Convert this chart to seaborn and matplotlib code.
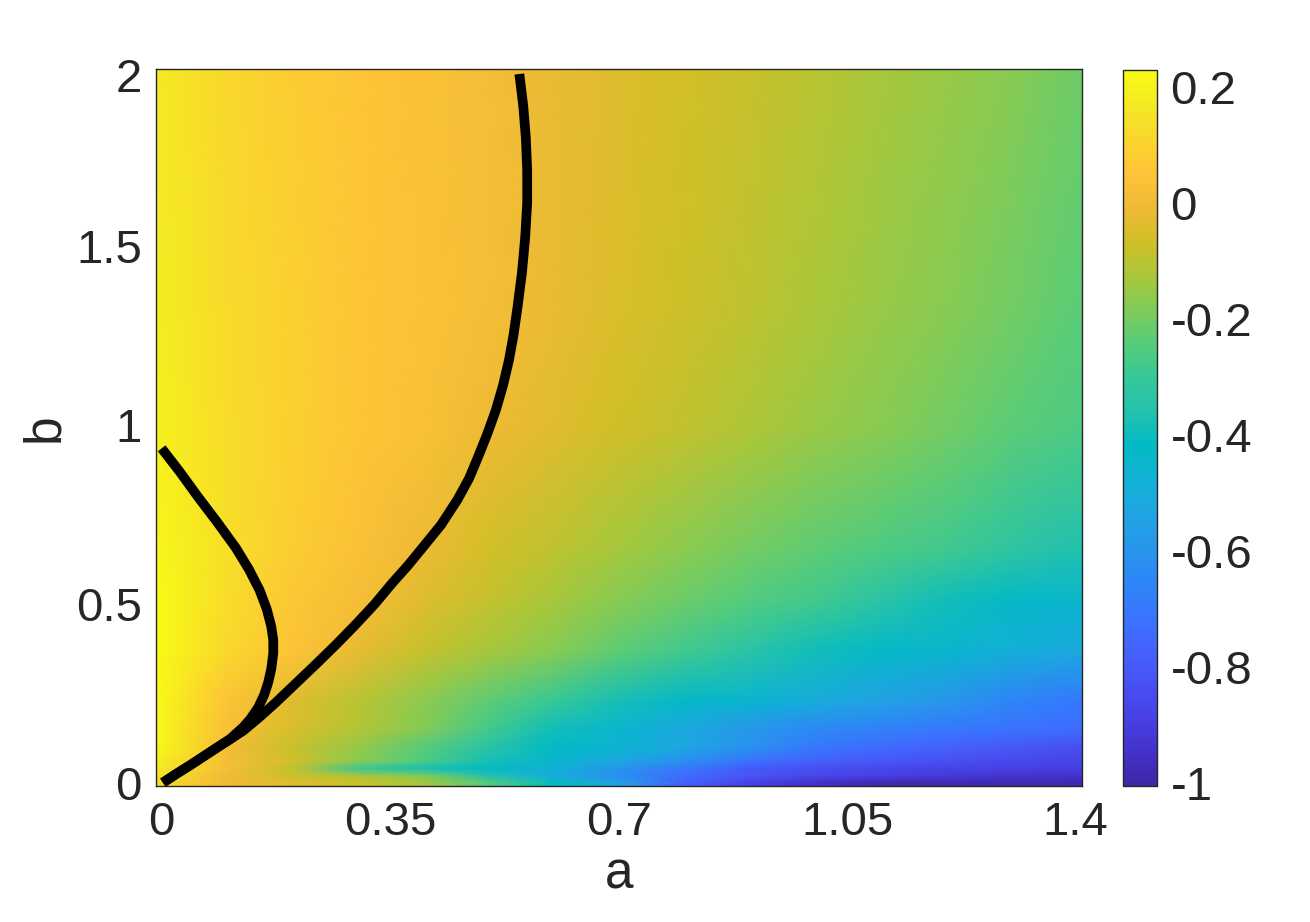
import numpy as np
import matplotlib
matplotlib.use("Agg")
import matplotlib.pyplot as plt
from matplotlib.colors import LinearSegmentedColormap
import seaborn as sns

# grid (a across, b up)
a_vals = [0.0, 0.1, 0.2, 0.3, 0.4, 0.5, 0.6, 0.7, 0.8, 0.9, 1.0, 1.1, 1.2, 1.3, 1.4]
b_vals = [0.0, 0.02, 0.04, 0.06, 0.10, 0.15, 0.23, 0.37, 0.51, 0.65, 0.985, 1.32, 1.99]

z_b000 = [0.12, 0.0, -0.04, -0.07, -0.13, -0.25, -0.41, -0.55, -0.78, -0.89, -0.95, -0.99, -0.99, -0.99, -0.99]
z_b002 = [0.14, 0.0, -0.07, -0.13, -0.19, -0.36, -0.50, -0.62, -0.74, -0.81, -0.86, -0.89, -0.91, -0.93, -0.94]
z_b004 = [0.16, 0.02, -0.09, -0.30, -0.38, -0.42, -0.48, -0.60, -0.70, -0.80, -0.84, -0.86, -0.88, -0.89, -0.90]
z_b006 = [0.18, 0.02, -0.06, -0.17, -0.26, -0.38, -0.44, -0.52, -0.62, -0.72, -0.78, -0.81, -0.84, -0.86, -0.88]
z_b010 = [0.21, 0.01, -0.08, -0.155, -0.24, -0.335, -0.42, -0.46, -0.52, -0.61, -0.70, -0.74, -0.77, -0.80, -0.84]
z_b015 = [0.21, 0.03, -0.05, -0.11, -0.18, -0.28, -0.39, -0.45, -0.52, -0.59, -0.64, -0.67, -0.70, -0.72, -0.74]
z_b023 = [0.21, 0.05, -0.04, -0.10, -0.165, -0.23, -0.30, -0.38, -0.43, -0.455, -0.50, -0.54, -0.59, -0.65, -0.70]
z_b037 = [0.22, 0.12, 0.05, -0.02, -0.08, -0.13, -0.175, -0.23, -0.28, -0.335, -0.39, -0.43, -0.45, -0.48, -0.51]
z_b051 = [0.22, 0.13, 0.065, 0.02, -0.04, -0.085, -0.13, -0.175, -0.21, -0.25, -0.28, -0.335, -0.39, -0.43, -0.45]
z_b065 = [0.21, 0.14, 0.085, 0.04, -0.01, -0.06, -0.095, -0.135, -0.17, -0.20, -0.23, -0.26, -0.285, -0.33, -0.36]
z_b099 = [0.19, 0.13, 0.09, 0.06, 0.035, -0.01, -0.04, -0.065, -0.09, -0.12, -0.15, -0.175, -0.20, -0.235, -0.26]
z_b132 = [0.18, 0.125, 0.09, 0.06, 0.038, 0.02, -0.02, -0.05, -0.07, -0.095, -0.125, -0.15, -0.175, -0.20, -0.235]
z_b199 = [0.165, 0.116, 0.08, 0.057, 0.035, 0.018, -0.02, -0.041, -0.061, -0.08, -0.10, -0.13, -0.15, -0.175, -0.205]

# black curves
curve1_a = [0.0, 0.028, 0.055, 0.085, 0.114, 0.134, 0.150, 0.161, 0.168, 0.171, 0.171,
            0.168, 0.163, 0.157, 0.148, 0.136, 0.125, 0.105, 0.085, 0.065, 0.044, 0.023, 0.002]
curve1_b = [0.934, 0.868, 0.800, 0.728, 0.655, 0.595, 0.538, 0.485, 0.436, 0.398, 0.361,
            0.318, 0.278, 0.245, 0.210, 0.178, 0.155, 0.122, 0.098, 0.074, 0.049, 0.025, 0.0]
curve2_a = [0.002, 0.023, 0.044, 0.065, 0.085, 0.105, 0.125, 0.150, 0.175, 0.205, 0.236,
            0.268, 0.299, 0.327, 0.353, 0.377, 0.399, 0.428, 0.453, 0.471, 0.485, 0.499,
            0.512, 0.523, 0.532, 0.539, 0.545, 0.552, 0.557, 0.560, 0.560, 0.558, 0.554, 0.548]
curve2_b = [0.0, 0.025, 0.049, 0.074, 0.098, 0.121, 0.145, 0.183, 0.224, 0.276, 0.330,
            0.387, 0.445, 0.500, 0.557, 0.606, 0.655, 0.720, 0.790, 0.850, 0.911, 0.975,
            1.041, 1.110, 1.180, 1.250, 1.326, 1.425, 1.525, 1.620, 1.710, 1.800, 1.890, 1.980]

x_ticks = [0, 0.35, 0.7, 1.05, 1.4]
x_ticklabels = ["0", "0.35", "0.7", "1.05", "1.4"]
y_ticks = [0, 0.5, 1, 1.5, 1.976]
y_ticklabels = ["0", "0.5", "1", "1.5", "2"]
cbar_ticks = [0.2, 0, -0.2, -0.4, -0.6, -0.8, -1]
cbar_ticklabels = ["0.2", "0", "-0.2", "-0.4", "-0.6", "-0.8", "-1"]

# parula-like colormap
parula = LinearSegmentedColormap.from_list("parula", [
    (0.2422, 0.1504, 0.6603), (0.2647, 0.1978, 0.7952), (0.2783, 0.2559, 0.8991),
    (0.2810, 0.3228, 0.9579), (0.2699, 0.3892, 0.9906), (0.2206, 0.4603, 0.9973),
    (0.1786, 0.5289, 0.9682), (0.1540, 0.5902, 0.9218), (0.1248, 0.6459, 0.8883),
    (0.0689, 0.6948, 0.8394), (0.0067, 0.7312, 0.7660), (0.1408, 0.7584, 0.6842),
    (0.2161, 0.7843, 0.5923), (0.3406, 0.8008, 0.4789), (0.5044, 0.7993, 0.3480),
    (0.6720, 0.7793, 0.2227), (0.8203, 0.7498, 0.1535), (0.9393, 0.7288, 0.2100),
    (0.9970, 0.7659, 0.2199), (0.9786, 0.8386, 0.1766), (0.9597, 0.9135, 0.1423),
    (0.9769, 0.9839, 0.0805)], N=256)

sns.set_theme(style="ticks")
plt.rcParams["font.family"] = ["Liberation Sans", "DejaVu Sans"]
ink = "#262626"

z = np.array([z_b000, z_b002, z_b004, z_b006, z_b010, z_b015, z_b023, z_b037,
              z_b051, z_b065, z_b099, z_b132, z_b199])
xlim = (-0.009, 1.41)
ylim = (-0.0095, 1.993)
# repeat edge values out to the axes limits so the mesh fills the box
xs = np.r_[xlim[0], a_vals, xlim[1]]
ys = np.r_[ylim[0], b_vals, ylim[1]]
zz = np.pad(z, 1, mode="edge")
X, Y = np.meshgrid(xs, ys)

fig = plt.figure(figsize=(13.1, 9.22), dpi=100)
ax = fig.add_axes([0.1189, 0.1475, 0.7071, 0.7773])
cax = fig.add_axes([0.8575, 0.1472, 0.0255, 0.7774])

mesh = ax.pcolormesh(X, Y, zz, shading="gouraud", cmap=parula, vmin=-1.006, vmax=0.23,
                     rasterized=True)
for ca, cb_ in [(curve2_a, curve2_b), (curve1_a, curve1_b)]:
    sns.lineplot(x=ca, y=cb_, sort=False, estimator=None, color="black",
                 linewidth=7, ax=ax)
for ln in ax.get_lines():
    ln.set_solid_capstyle("butt")
    ln.set_solid_joinstyle("round")

ax.set_xlim(*xlim)
ax.set_ylim(*ylim)
ax.set_xticks(x_ticks)
ax.set_xticklabels(x_ticklabels)
ax.set_yticks(y_ticks)
ax.set_yticklabels(y_ticklabels)
ax.tick_params(direction="in", length=6.5, width=0.9, top=True, right=True,
               labelsize=34, colors=ink)
ax.tick_params(axis="x", pad=11)
ax.tick_params(axis="y", pad=10)
for s in ax.spines.values():
    s.set_visible(True)
    s.set_linewidth(1.0)
    s.set_color(ink)
ax.set_xlabel("a", fontsize=37, color=ink, labelpad=4)
ax.set_ylabel("b", fontsize=37, color=ink, labelpad=5)

cb = fig.colorbar(mesh, cax=cax, ticks=cbar_ticks)
cb.ax.set_yticklabels(cbar_ticklabels)
cb.ax.tick_params(direction="in", length=6.5, width=0.9, labelsize=34, colors=ink, pad=10)
cb.outline.set_linewidth(1.0)
cb.outline.set_edgecolor(ink)

fig.savefig("out.png", dpi=100)
